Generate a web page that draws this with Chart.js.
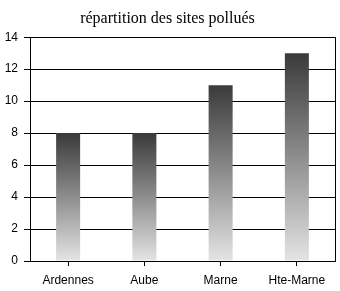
<!DOCTYPE html>
<html>
<head>
<meta charset="utf-8">
<script src="https://cdn.jsdelivr.net/npm/chart.js@4"></script>
<style>
  html, body { margin: 0; padding: 0; background: #fff; }
  canvas { display: block; }
</style>
</head>
<body>
<canvas id="sitesChart" width="340" height="291"></canvas>
<script>
let titleText = "répartition des sites pollués";
let labels = ["Ardennes", "Aube", "Marne", "Hte-Marne"];
let dataValues = [8, 8, 11, 13];
let yTicks = [0, 2, 4, 6, 8, 10, 12, 14];

// dégradé vertical de chaque barre (foncé en haut, clair en bas)
function barFill(ctx) {
    let chart = ctx.chart;
    if (!chart.chartArea || ctx.parsed == null) return "#888";
    let y = chart.scales.y;
    let top = y.getPixelForValue(ctx.parsed.y);
    let bottom = y.getPixelForValue(0);
    let g = chart.ctx.createLinearGradient(0, top, 0, bottom);
    g.addColorStop(0, "#3a3a3a");
    g.addColorStop(0.45, "#858585");
    g.addColorStop(1, "#e4e4e4");
    return g;
}

// bord droit du cadre
let rightBorder = {
    id: "rightBorder",
    afterDraw(chart) {
        let a = chart.chartArea;
        let c = chart.ctx;
        c.save();
        c.strokeStyle = "#000";
        c.lineWidth = 1;
        c.beginPath();
        c.moveTo(Math.round(a.right) + 0.5, a.top);
        c.lineTo(Math.round(a.right) + 0.5, a.bottom);
        c.stroke();
        c.restore();
    }
};

new Chart(document.getElementById("sitesChart"), {
    type: "bar",
    data: {
        labels: labels,
        datasets: [{
            data: dataValues,
            backgroundColor: barFill,
            borderWidth: 0,
            categoryPercentage: 1,
            barPercentage: 0.315
        }]
    },
    options: {
        responsive: false,
        animation: false,
        layout: { padding: { left: 0, right: 5, top: 0, bottom: 0 } },
        plugins: {
            legend: { display: false },
            tooltip: { enabled: false },
            title: {
                display: true,
                text: titleText,
                color: "#000",
                font: { family: "Liberation Serif", size: 16, weight: "normal" },
                padding: { top: 9, bottom: 9 }
            }
        },
        scales: {
            x: {
                afterFit(scale) { scale.height = 30; },
                grid: {
                    offset: false,
                    drawOnChartArea: false,
                    drawTicks: true,
                    tickLength: 5,
                    color: "#000"
                },
                border: { display: true, color: "#000", width: 1 },
                ticks: {
                    color: "#000",
                    padding: 7,
                    font: { family: "Liberation Sans", size: 12 }
                }
            },
            y: {
                min: 0,
                max: 14,
                afterFit(scale) { scale.width = 30; },
                afterBuildTicks(scale) {
                    scale.ticks = yTicks.map(v => ({ value: v }));
                },
                grid: {
                    color: "#000",
                    lineWidth: 1,
                    drawTicks: true,
                    tickLength: 6
                },
                border: { display: true, color: "#000", width: 1 },
                ticks: {
                    color: "#000",
                    padding: 6,
                    font: { family: "Liberation Sans", size: 12 }
                }
            }
        }
    },
    plugins: [rightBorder]
});
</script>
</body>
</html>
